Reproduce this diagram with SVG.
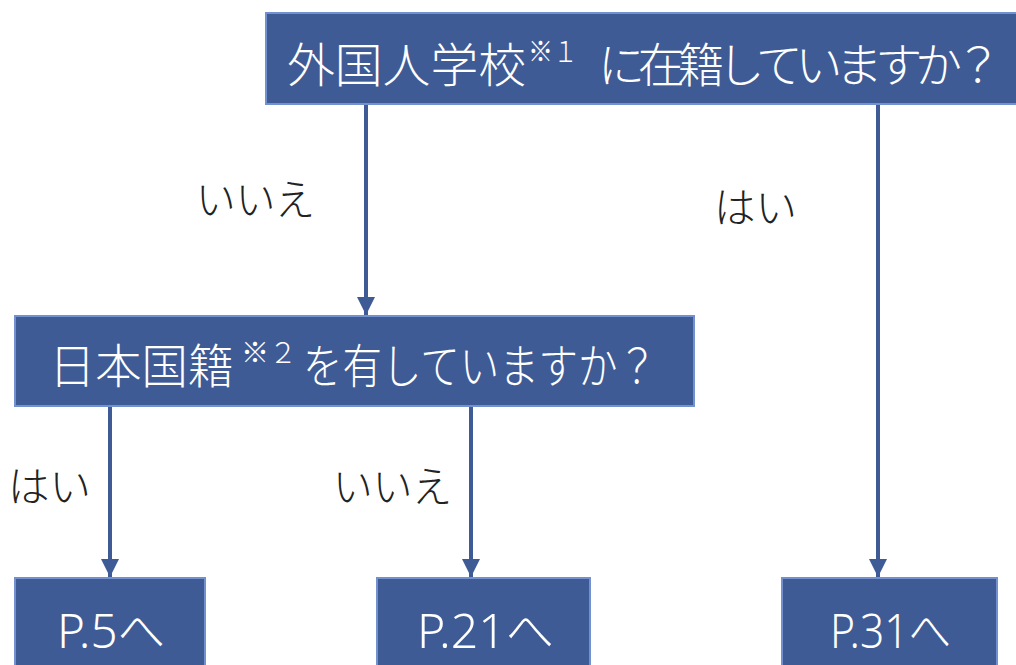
<svg xmlns="http://www.w3.org/2000/svg" width="1016" height="665" viewBox="0 0 1016 665">
<style>
.box{fill:#3E5B95;stroke:#7391CE;stroke-width:2}
.bt{fill:#fff;font-family:"Noto Sans CJK JP","Noto Sans",sans-serif;font-size:47px;font-weight:300}
.sup{fill:#fff;font-family:"Noto Sans CJK JP","Noto Sans",sans-serif;font-size:28px;font-weight:300}
.pt{fill:#fff;font-family:"Noto Sans","Noto Sans CJK JP",sans-serif;font-size:48px;font-weight:300}
.lb{fill:#222;font-family:"Noto Sans CJK JP",sans-serif;font-size:42px;font-weight:300}
.cn{stroke:#3E5B95;stroke-width:4;fill:none}
</style>
<defs>
<marker id="ah" viewBox="0 0 10 10" refX="10" refY="5" markerWidth="4.5" markerHeight="4.5" markerUnits="strokeWidth" orient="auto">
<path d="M0,0 L10,5 L0,10 Z" fill="#3E5B95"/>
</marker>
</defs>
<rect width="1016" height="665" fill="#fff"/>
<g id="connectors">
<line class="cn" x1="366" y1="105" x2="366" y2="315" marker-end="url(#ah)"/>
<line class="cn" x1="878" y1="105" x2="878" y2="577" marker-end="url(#ah)"/>
<line class="cn" x1="110" y1="407" x2="110" y2="577" marker-end="url(#ah)"/>
<line class="cn" x1="471" y1="407" x2="471" y2="577" marker-end="url(#ah)"/>
</g>
<g id="labels">
<text class="lb" x="196" y="215" textLength="119" lengthAdjust="spacingAndGlyphs">いいえ</text>
<text class="lb" x="714" y="223" textLength="83" lengthAdjust="spacingAndGlyphs">はい</text>
<text class="lb" x="8" y="502" textLength="83" lengthAdjust="spacingAndGlyphs">はい</text>
<text class="lb" x="333" y="502" textLength="119" lengthAdjust="spacingAndGlyphs">いいえ</text>
</g>
<g id="q1">
<rect class="box" x="266" y="13" width="752" height="91"/>
<text class="bt" x="287" y="82" textLength="239" lengthAdjust="spacingAndGlyphs">外国人学校</text>
<text class="sup" x="528" y="62" textLength="50" lengthAdjust="spacingAndGlyphs">※１</text>
<text class="bt" x="598" y="82" letter-spacing="-7.2">に在籍していますか？</text>
</g>
<g id="q2">
<rect class="box" x="15" y="316" width="679" height="90"/>
<text class="bt" x="49" y="383" textLength="185" lengthAdjust="spacingAndGlyphs">日本国籍</text>
<text class="sup" x="241" y="363" textLength="56" lengthAdjust="spacingAndGlyphs">※２</text>
<text class="bt" x="303" y="383" textLength="354" lengthAdjust="spacingAndGlyphs">を有していますか？</text>
</g>
<g id="p5">
<rect class="box" x="15" y="578" width="190" height="100"/>
<text class="pt" x="57" y="648" textLength="108" lengthAdjust="spacingAndGlyphs">P.5へ</text>
</g>
<g id="p21">
<rect class="box" x="377" y="578" width="213" height="100"/>
<text class="pt" x="417" y="648" textLength="137" lengthAdjust="spacingAndGlyphs">P.21へ</text>
</g>
<g id="p31">
<rect class="box" x="782" y="578" width="215" height="100"/>
<text class="pt" x="830" y="648" textLength="121" lengthAdjust="spacingAndGlyphs">P.31へ</text>
</g>
</svg>
